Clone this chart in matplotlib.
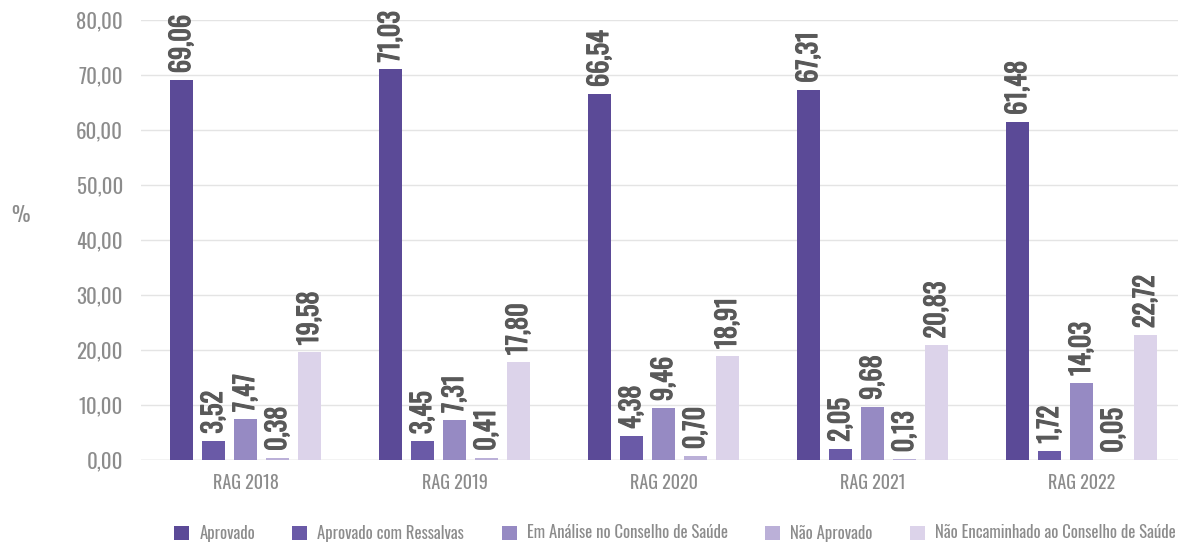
import matplotlib
matplotlib.use("Agg")
import matplotlib.pyplot as plt
import matplotlib.patheffects as pe
import numpy as np
from matplotlib.patches import Patch

# --- dados (%)
rags = ["RAG 2018", "RAG 2019", "RAG 2020", "RAG 2021", "RAG 2022"]
series = ["Aprovado", "Aprovado com Ressalvas", "Em Análise no Conselho de Saúde",
          "Não Aprovado", "Não Encaminhado ao Conselho de Saúde"]
aprovado = [69.06, 71.03, 66.54, 67.31, 61.48]
ressalvas = [3.52, 3.45, 4.38, 2.05, 1.72]
em_analise = [7.47, 7.31, 9.46, 9.68, 14.03]
nao_aprovado = [0.38, 0.41, 0.70, 0.13, 0.05]
nao_encaminhado = [19.58, 17.80, 18.91, 20.83, 22.72]
yticks = [0, 10, 20, 30, 40, 50, 60, 70, 80]

cores = ["#5b4a97", "#6a5aa7", "#968ac3", "#bbb0d8", "#dcd3ea"]
fonte = "Oswald"

valores = [aprovado, ressalvas, em_analise, nao_aprovado, nao_encaminhado]

fig = plt.figure(figsize=(11.78, 5.44), dpi=100, facecolor="white")
ax = fig.add_axes([141 / 1178, 84 / 544, 1045 / 1178, 440 / 544])

x = np.arange(len(rags))
passo = 0.153
largura = 0.11
negrito = [pe.withStroke(linewidth=0.8, foreground="#595959")]
for i, (nome, vals, cor) in enumerate(zip(series, valores, cores)):
    pos = x + (i - 2) * passo
    ax.bar(pos, vals, width=largura, color=cor, zorder=3, label=nome)
    for xp, v in zip(pos, vals):
        rotulo = f"{v:.2f}".replace(".", ",")
        ax.annotate(rotulo, (xp, v), xytext=(0, 5), textcoords="offset points",
                    rotation=90, ha="center", va="bottom", color="#595959",
                    fontsize=19, family=fonte, path_effects=negrito)

ax.set_xlim(-0.5, 4.5)
ax.set_ylim(0, 80)
ax.set_yticks(yticks)
ax.set_yticklabels([f"{t:.2f}".replace(".", ",") for t in yticks])
ax.set_xticks(x)
ax.set_xticklabels(rags)
ax.tick_params(axis="y", length=0, pad=13, labelsize=15, labelcolor="#8c8c8c")
ax.tick_params(axis="x", length=0, pad=10, labelsize=13, labelcolor="#8c8c8c")
for lab in ax.get_xticklabels() + ax.get_yticklabels():
    lab.set_family(fonte)

for s in ax.spines.values():
    s.set_visible(False)
ax.grid(axis="y", color="#e4e4e4", linewidth=1, zorder=0)
ax.axhline(0, color="#d9d9d9", linewidth=1, zorder=1)

fig.text(20 / 1178, 1 - 215 / 544, "%", ha="center", va="center", fontsize=15,
         color="#8c8c8c", family=fonte)

handles = [Patch(facecolor=c, label=n) for n, c in zip(series, cores)]
fig.legend(handles=handles, loc="center", bbox_to_anchor=(675 / 1178, 1 - 533 / 544),
           ncol=5, frameon=False, handlelength=0.9, handleheight=0.9,
           handletextpad=0.6, columnspacing=2.25,
           prop={"family": fonte, "size": 12}, labelcolor="#8c8c8c")

fig.savefig("out.png", dpi=100, facecolor="white")
